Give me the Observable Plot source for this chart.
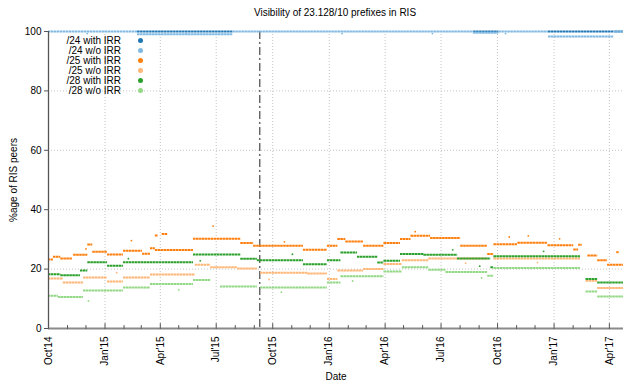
<!DOCTYPE html>
<html><head><meta charset="utf-8">
<script src="https://cdn.jsdelivr.net/npm/d3@7"></script>
<script src="https://cdn.jsdelivr.net/npm/@observablehq/plot@0.6"></script>
<style>
body{margin:0;background:#fff;font-family:"Liberation Sans",Arial,Helvetica,sans-serif;}
#wrap{position:relative;width:640px;height:384px;}
#title{position:absolute;top:7px;left:0;width:670px;text-align:center;font-size:10px;color:#000;}
.lrow{position:absolute;height:10px;line-height:10px;font-size:10px;color:#000;}
.ltext{position:absolute;right:519px;white-space:nowrap;}
.ldot{position:absolute;width:5px;height:5px;border-radius:50%;}
</style></head>
<body><div id="wrap"><div id="title">Visibility of 23.128/10 prefixes in RIS</div></div>
<script>
// ---- data ----
const xDomain = ["2014-10-01", "2017-04-24"];
const eventDate = ["2015-09-10"];
const yTicks = [0, 20, 40, 60, 80, 100];
const seriesNames = ["/24 with IRR", "/24 w/o IRR", "/25 with IRR", "/25 w/o IRR", "/28 with IRR", "/28 w/o IRR"];
const seriesColors = ["#1f77b4", "#80b9e2", "#ff7f0e", "#ffb676", "#2ca02c", "#93d886"];

// step segments: [start, end, % of RIS peers]
const seg24With = [
  ["2015-02-23", "2015-07-28", 100],
  ["2016-08-23", "2016-10-03", 100],
  ["2016-12-23", "2017-04-08", 100],
  ["2017-04-10", "2017-04-24", 100]
];
const seg24Without = [
  ["2014-10-01", "2015-02-23", 100],
  ["2015-02-23", "2015-07-28", 99.1],
  ["2015-07-28", "2016-08-23", 100],
  ["2016-08-23", "2016-10-03", 99.6],
  ["2016-10-03", "2016-12-23", 100],
  ["2016-12-23", "2017-04-08", 98.3],
  ["2017-04-08", "2017-04-24", 100]
];
const seg25With = [
  ["2014-10-01", "2014-10-09", 23.2],
  ["2014-10-09", "2014-10-21", 24.2],
  ["2014-10-21", "2014-11-09", 23.6],
  ["2014-11-11", "2014-12-04", 24.8],
  ["2014-12-04", "2014-12-12", 28.3],
  ["2014-12-12", "2015-01-05", 25.8],
  ["2015-01-05", "2015-01-31", 24.9],
  ["2015-01-31", "2015-03-03", 26.2],
  ["2015-03-03", "2015-03-16", 25.2],
  ["2015-03-16", "2015-03-24", 27.0],
  ["2015-03-24", "2015-03-29", 31.3],
  ["2015-04-04", "2015-04-13", 31.8],
  ["2015-03-24", "2015-05-25", 26.4],
  ["2015-05-25", "2015-08-10", 30.2],
  ["2015-08-10", "2015-08-31", 28.8],
  ["2015-08-31", "2015-11-20", 27.9],
  ["2015-11-20", "2015-12-29", 26.5],
  ["2015-12-29", "2016-01-15", 27.9],
  ["2016-01-15", "2016-01-28", 30.1],
  ["2016-01-28", "2016-02-26", 29.3],
  ["2016-02-26", "2016-03-30", 27.9],
  ["2016-03-30", "2016-04-26", 28.8],
  ["2016-04-26", "2016-05-13", 30.1],
  ["2016-05-13", "2016-06-14", 31.2],
  ["2016-06-14", "2016-08-02", 30.5],
  ["2016-08-02", "2016-09-15", 27.9],
  ["2016-09-15", "2016-09-25", 25.1],
  ["2016-09-25", "2016-11-03", 28.4],
  ["2016-11-03", "2016-12-22", 28.9],
  ["2016-12-22", "2017-02-02", 28.0],
  ["2017-02-02", "2017-02-10", 26.6],
  ["2017-02-10", "2017-02-16", 28.2],
  ["2017-02-25", "2017-03-13", 24.6],
  ["2017-03-13", "2017-03-29", 23.0],
  ["2017-03-29", "2017-04-24", 21.5],
  ["2017-04-13", "2017-04-17", 25.7]
];
const seg25Without = [
  ["2014-10-01", "2014-10-25", 16.8],
  ["2014-10-25", "2014-11-27", 15.5],
  ["2014-11-27", "2015-01-05", 17.2],
  ["2015-01-05", "2015-01-31", 15.8],
  ["2015-01-31", "2015-03-16", 17.2],
  ["2015-03-16", "2015-05-28", 18.2],
  ["2015-05-28", "2015-06-22", 21.5],
  ["2015-06-22", "2015-08-05", 20.6],
  ["2015-08-05", "2015-09-06", 20.2],
  ["2015-09-11", "2015-11-27", 18.8],
  ["2015-11-27", "2015-12-29", 18.5],
  ["2015-12-29", "2016-01-15", 16.7],
  ["2016-01-15", "2016-02-26", 19.5],
  ["2016-02-26", "2016-03-30", 20.0],
  ["2016-03-30", "2016-04-29", 21.7],
  ["2016-04-29", "2016-06-11", 23.0],
  ["2016-06-11", "2016-09-15", 23.6],
  ["2016-09-25", "2017-02-13", 23.6],
  ["2017-02-22", "2017-03-13", 16.1],
  ["2017-03-13", "2017-04-24", 13.6]
];
const seg28With = [
  ["2014-10-01", "2014-10-21", 18.3],
  ["2014-10-21", "2014-11-22", 17.9],
  ["2014-11-22", "2014-12-04", 19.5],
  ["2014-12-04", "2015-01-05", 22.3],
  ["2015-01-05", "2015-01-31", 21.1],
  ["2015-01-31", "2015-05-25", 22.3],
  ["2015-05-25", "2015-08-10", 24.9],
  ["2015-08-10", "2015-09-06", 23.5],
  ["2015-09-06", "2015-11-20", 23.0],
  ["2015-11-20", "2015-12-29", 21.6],
  ["2015-12-29", "2016-01-20", 23.0],
  ["2016-01-20", "2016-02-16", 25.6],
  ["2016-02-16", "2016-03-20", 24.2],
  ["2016-03-20", "2016-03-30", 22.2],
  ["2016-03-30", "2016-04-26", 22.8],
  ["2016-04-26", "2016-06-03", 25.1],
  ["2016-06-03", "2016-07-28", 24.8],
  ["2016-07-28", "2016-09-20", 23.6],
  ["2016-09-20", "2016-09-25", 20.6],
  ["2016-09-25", "2017-02-13", 24.3],
  ["2017-02-22", "2017-03-13", 16.7],
  ["2017-03-13", "2017-04-24", 15.5]
];
const seg28Without = [
  ["2014-10-01", "2014-10-17", 11.0],
  ["2014-10-17", "2014-11-27", 10.6],
  ["2014-11-27", "2015-01-31", 12.8],
  ["2015-01-31", "2015-03-16", 13.8],
  ["2015-03-16", "2015-05-25", 15.0],
  ["2015-05-25", "2015-06-22", 16.3],
  ["2015-07-08", "2015-09-06", 14.1],
  ["2015-09-11", "2015-12-29", 13.8],
  ["2015-12-29", "2016-01-20", 15.5],
  ["2016-01-20", "2016-03-30", 17.6],
  ["2016-03-30", "2016-04-29", 19.2],
  ["2016-04-29", "2016-06-11", 20.6],
  ["2016-06-11", "2016-07-09", 19.8],
  ["2016-07-09", "2016-09-15", 19.0],
  ["2016-09-15", "2016-09-25", 17.8],
  ["2016-09-25", "2017-02-13", 20.4],
  ["2017-02-22", "2017-03-13", 12.5],
  ["2017-03-13", "2017-04-24", 10.8]
];
// isolated samples away from the main level: [date, value]
const out24Without = [["2014-12-03", 99.3], ["2015-05-13", 99.3], ["2016-01-22", 99.3], ["2016-06-17", 99.3], ["2016-10-14", 99.3]];
const out25With = [["2014-12-01", 26.8], ["2015-02-13", 29.6], ["2015-06-26", 34.5], ["2015-10-20", 29.2], ["2016-05-20", 32.6], ["2016-10-20", 30.8], ["2016-11-20", 31.2], ["2017-01-10", 30.2]];
const out25Without = [["2015-01-20", 18.8], ["2015-09-25", 16.5], ["2016-08-10", 22.0], ["2016-12-05", 22.2]];
const out28With = [["2015-02-08", 23.5], ["2015-06-05", 22.8], ["2015-11-02", 25.0], ["2016-07-20", 26.5], ["2016-09-02", 21.0], ["2016-12-15", 26.0]];
const out28Without = [["2014-12-05", 9.3], ["2015-05-01", 13.0], ["2015-10-15", 12.2], ["2016-02-08", 16.0], ["2016-09-05", 17.0]];

// ---- build ----
const parse = d3.utcParse("%Y-%m-%d");
const allSegs = [seg24With, seg24Without, seg25With, seg25Without, seg28With, seg28Without];
const allOut = [[], out24Without, out25With, out25Without, out28With, out28Without];
const x0 = parse(xDomain[0]), x1 = parse(xDomain[1]);
const quarterTicks = d3.utcMonth.every(3).range(x0, x1);
const monthTicks = d3.utcMonth.range(x0, x1).filter(d => d.getUTCMonth() % 3 !== 0);
const tickShape = {draw(ctx, l) { ctx.moveTo(0, 0); ctx.lineTo(0, -l); }};

const segMarks = allSegs.map((arr, i) => Plot.ruleY(
  arr.map(([a, b, v]) => ({s: parse(a), e: parse(b), v})),
  {y: "v", x1: "s", x2: "e", stroke: seriesColors[i], strokeWidth: 2, strokeDasharray: "2.6,0.4"}
));
const outMarks = allOut.map((arr, i) => Plot.dot(
  arr.map(([a, v]) => ({d: parse(a), v})),
  {x: "d", y: "v", r: 0.9, fill: seriesColors[i], stroke: "none"}
));

const chart = Plot.plot({
  width: 640, height: 384,
  marginLeft: 48, marginRight: 17, marginTop: 31, marginBottom: 56,
  style: {fontFamily: '"Liberation Sans", Arial, Helvetica, sans-serif', fontSize: "10px", background: "transparent", color: "#000"},
  x: {type: "utc", domain: [x0, x1]},
  y: {domain: [0, 100]},
  marks: [
    Plot.gridY([20, 40, 60, 80], {stroke: "#c4c4c4", strokeOpacity: 1, strokeDasharray: "1,2"}),
    Plot.gridX(quarterTicks.slice(1), {stroke: "#c4c4c4", strokeOpacity: 1, strokeDasharray: "1,2"}),
    Plot.ruleX(eventDate.map(parse), {stroke: "#222", strokeWidth: 1, strokeDasharray: "8,3,2,3"}),
    ...segMarks,
    ...outMarks,
    Plot.ruleX([x0], {stroke: "#555", strokeWidth: 1.3}),
    Plot.ruleY([0], {stroke: "#8a8a8a", strokeWidth: 2}),
    Plot.axisY({ticks: yTicks, tickSize: 4, tickPadding: 3, stroke: "#555", label: "%age of RIS peers", labelAnchor: "center", labelOffset: 39, labelArrow: "none"}),
    Plot.axisX({ticks: quarterTicks, tickFormat: d3.utcFormat("%b'%y"), tickRotate: -90, tickSize: 0, tickPadding: 8, label: "Date", labelAnchor: "center", labelOffset: 51, labelArrow: "none"}),
    Plot.vector(quarterTicks, {x: d => d, frameAnchor: "bottom", length: 5, anchor: "start", shape: tickShape, stroke: "#555", strokeWidth: 1}),
    Plot.vector(monthTicks, {x: d => d, frameAnchor: "bottom", length: 3, anchor: "start", shape: tickShape, stroke: "#555", strokeWidth: 1})
  ]
});
const wrap = document.getElementById("wrap");
wrap.insertBefore(chart, wrap.firstChild);

// legend
seriesNames.forEach((name, i) => {
  const row = document.createElement("div");
  row.className = "lrow";
  row.style.top = (35.7 + i * 10) + "px";
  row.style.left = "0px";
  row.style.width = "640px";
  const t = document.createElement("span");
  t.className = "ltext";
  t.textContent = name;
  const dt = document.createElement("span");
  dt.className = "ldot";
  dt.style.left = "137.5px";
  dt.style.top = "2.5px";
  dt.style.background = seriesColors[i];
  row.appendChild(t); row.appendChild(dt);
  wrap.appendChild(row);
});
</script>
</body></html>
